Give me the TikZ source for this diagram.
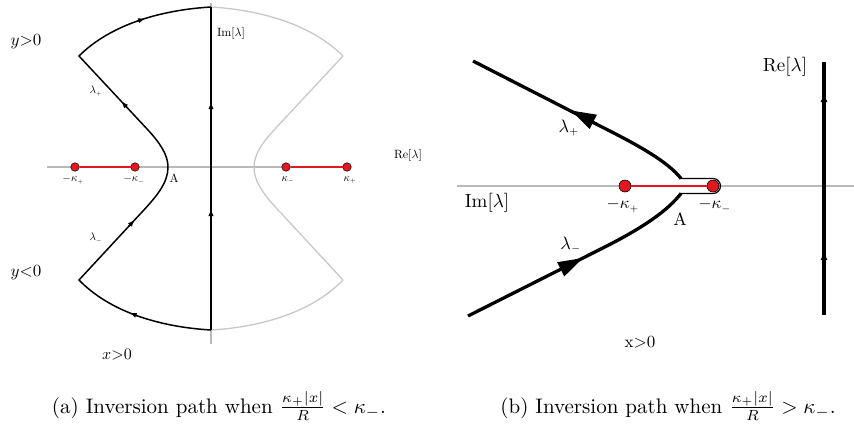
\documentclass[tikz,border=0pt]{standalone}
\usetikzlibrary{arrows.meta}
\definecolor{axgray}{RGB}{185,185,185}
\definecolor{mirgray}{RGB}{200,200,200}
\definecolor{kred}{RGB}{226,24,30}
\begin{document}
\begin{tikzpicture}[x=1pt,y=-1pt,
  lbl/.style={inner sep=0pt, scale=#1/10},
  thinpath/.style={line width=1.5pt, black, line join=round},
  thickpath/.style={line width=3.3pt, black, line join=round},
  mirror/.style={line width=1.3pt, mirgray, line join=round},
  axisline/.style={line width=1.2pt, axgray},
  redseg/.style={line width=1.6pt, kred},
  sdot/.style={circle, fill=kred, draw=black, line width=0.5pt, minimum size=8.5pt, inner sep=0pt},
  bdot/.style={circle, fill=kred, draw=black, line width=0.6pt, minimum size=12pt, inner sep=0pt},
  sarr/.style={line width=1.5pt, -{Triangle[length=6pt,width=4.5pt]}},
  varr/.style={line width=3.3pt, -{Triangle[length=8pt,width=6pt]}}
]
\useasboundingbox (0,0) rectangle (854,424);

% ================= left panel =================
\draw[axisline] (47,167) -- (347,167);
\draw[axisline] (211,3) -- (211,344);
% mirrored (gray) contour
\draw[mirror] (211,7) .. controls (262,10) and (312,25) .. (343,56)
  -- (274,130) .. controls (262,143) and (254,155) .. (254,167)
  .. controls (254,182) and (264,195) .. (280,212)
  -- (343,280) .. controls (312,312) and (262,327) .. (211,330);
% black contour
\draw[thinpath] (211,7) .. controls (160,10) and (110,25) .. (79,56)
  -- (148,130) .. controls (160,143) and (168,155) .. (168,167)
  .. controls (168,182) and (158,195) .. (142,212)
  -- (79,280) .. controls (110,312) and (160,327) .. (211,330);
\draw[thinpath] (211,7) -- (211,330);
% small arrowheads
\coordinate (ta0) at (137.5,21); \coordinate (ta1) at (144.2,18.7);
\coordinate (lp0) at (127,107.5); \coordinate (lp1) at (122,102.1);
\coordinate (lm0) at (129,226); \coordinate (lm1) at (134,220.6);
\coordinate (ba0) at (137.5,315.9); \coordinate (ba1) at (130.6,313);
\coordinate (v10) at (211,110); \coordinate (v11) at (211,103);
\coordinate (v20) at (211,217); \coordinate (v21) at (211,210);
\draw[sarr] (ta0) -- (ta1);
\draw[sarr] (lp0) -- (lp1);
\draw[sarr] (lm0) -- (lm1);
\draw[sarr] (ba0) -- (ba1);
\draw[sarr] (v10) -- (v11);
\draw[sarr] (v20) -- (v21);
% branch cuts and points
\node[sdot] (mkp) at (75,167) {};
\node[sdot] (mkm) at (135,167) {};
\node[sdot] (kmi) at (286,167) {};
\node[sdot] (kpl) at (347,167) {};
\draw[redseg] (mkp) -- (mkm);
\draw[redseg] (kmi) -- (kpl);
% labels
\node[lbl=17] (ypos) at (26,42) {$y{>}0$};
\node[lbl=17] (yneg) at (26,273) {$y{<}0$};
\node[lbl=16] (xposL) at (117,355) {$x{>}0$};
\node[lbl=12] (imL) at (231,33) {Im[$\lambda$]};
\node[lbl=12] (reL) at (408,155) {Re[$\lambda$]};
\node[lbl=11] (lpL) at (96,91) {$\lambda_{\scriptscriptstyle +}$};
\node[lbl=11] (lmL) at (96,238) {$\lambda_{\scriptscriptstyle -}$};
\node[lbl=11] (tmkp) at (73,180) {$-\kappa_{\scriptscriptstyle +}$};
\node[lbl=11] (tmkm) at (134,180) {$-\kappa_{\scriptscriptstyle -}$};
\node[lbl=11] (tkmi) at (288,180) {$\kappa_{\scriptscriptstyle -}$};
\node[lbl=11] (tkpl) at (350,180) {$\kappa_{\scriptscriptstyle +}$};
\node[lbl=12] (AL) at (174,178) {A};

% ================= right panel =================
\draw[axisline] (457,186) -- (854,186);
% keyhole thin part
\draw[line width=1.2pt] (680,178.5) -- (713,178.5) arc (-90:90:7.5) -- (680,193.5);
% upper branch
\draw[thickpath] (473,61) -- (600,126) .. controls (640,146) and (668,162) .. (681,178.5);
% lower branch
\draw[thickpath] (468,316) -- (600,249.4) .. controls (645,227) and (668,210) .. (681,193.5);
% big arrowheads
\fill (571,110.5) -- (589.7,129.0) -- (596.9,114.7) -- cycle;
\fill (583,258) -- (564.3,276.4) -- (557.1,262.2) -- cycle;
% vertical line
\draw[line width=3.3pt] (824,62) -- (824,315);
\coordinate (r10) at (824,103); \coordinate (r11) at (824,94);
\coordinate (r20) at (824,261); \coordinate (r21) at (824,252);
\draw[varr] (r10) -- (r11);
\draw[varr] (r20) -- (r21);
% points
\node[bdot] (rmkp) at (625,186) {};
\node[bdot] (rmkm) at (713,186) {};
\draw[redseg, line width=2pt] (rmkp) -- (rmkm);
% labels
\node[lbl=19] (reR) at (785,67) {Re[$\lambda$]};
\node[lbl=19] (imR) at (487,203) {Im[$\lambda$]};
\node[lbl=18] (lpR) at (569,128) {$\lambda_{\scriptscriptstyle +}$};
\node[lbl=18] (lmR) at (571,245) {$\lambda_{\scriptscriptstyle -}$};
\node[lbl=17] (trmkp) at (623,206) {$-\kappa_{\scriptscriptstyle +}$};
\node[lbl=17] (trmkm) at (715,206) {$-\kappa_{\scriptscriptstyle -}$};
\node[lbl=18] (AR) at (680,219) {A};
\node[lbl=17] (xposR) at (640,342) {$\mathrm{x}{>}0$};

% ================= captions =================
\node[lbl=21] (capA) at (219,406) {(a) Inversion path when $\frac{\kappa_+|x|}{R} < \kappa_-$.};
\node[lbl=21] (capB) at (668,406) {(b) Inversion path when $\frac{\kappa_+|x|}{R} > \kappa_-$.};
\end{tikzpicture}
\end{document}
